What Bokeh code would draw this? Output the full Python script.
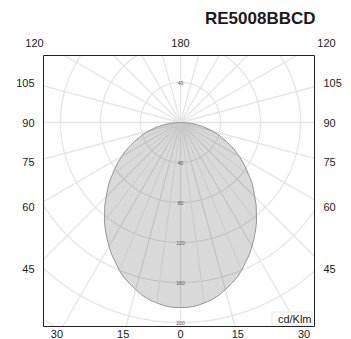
import numpy as np
from bokeh.plotting import figure
from bokeh.models import Range1d
from bokeh.embed import file_html
from bokeh.resources import INLINE
from bokeh.core.properties import value

# ---------------- data ----------------
title_text = "RE5008BBCD"
unit_text = "cd/Klm"

# gamma angle in degrees (0 = straight down, 180 = straight up)
gamma = [0, 2.5, 5, 7.5, 10, 12.5, 15, 17.5, 20, 22.5, 25, 27.5, 30, 32.5, 35, 37.5,
         40, 42.5, 45, 47.5, 50, 52.5, 55, 57.5, 60, 62.5, 65, 67.5, 70, 72.5, 75,
         77.5, 80, 82.5, 85, 87.5, 90, 180]
# luminous intensity (cd/klm), same in both half-planes (C0 / C180)
intensity = [185, 185, 184, 182, 180, 177, 173, 169, 165, 160, 154, 149, 143, 137, 131, 125,
             118, 112, 105, 99, 93, 86, 80, 74, 68, 62, 56, 50, 44, 39, 33,
             27, 22, 16, 11, 5, 0, 0]

ring_values = [40, 80, 120, 160, 200, 240]
ring_labels_below = ["40", "80", "120", "160", "200"]
ring_labels_above = ["40"]
side_ticks = [45, 60, 75, 90, 105]
top_ticks = [120, 180, 120]
top_ticks_signed = [-120, 180, 120]
bottom_ticks = [30, 15, 0, 15, 30]
bottom_ticks_signed = [-30, -15, 0, 15, 30]

# ---------------- layout (1 data unit = 1 px, centre of diagram at 0,0) ----------------
FONT = "Liberation Sans"
GRID = "#e4e4e4"
BX0, BX1, BY0, BY1 = -137, 134, -204, 67   # diagram box

p = figure(width=351, height=339, x_range=Range1d(-180, 171), y_range=Range1d(-217, 122),
           toolbar_location=None, output_backend="svg", title=None,
           x_axis_location=None, y_axis_location=None,
           min_border_left=0, min_border_right=0, min_border_top=0, min_border_bottom=0)
p.grid.visible = False
p.outline_line_color = None
p.background_fill_color = "white"
p.border_fill_color = "white"

# polar grid: rings clipped to the box
t = np.linspace(0, 2 * np.pi, 721)
for r in ring_values:
    cx, cy = r * np.sin(t), r * np.cos(t)
    inside = (cx >= BX0) & (cx <= BX1) & (cy >= BY0) & (cy <= BY1)
    cx = np.where(inside, cx, np.nan)
    cy = np.where(inside, cy, np.nan)
    p.line(cx, cy, line_color=GRID, line_width=1.3)

def to_box(dx, dy):
    ts = []
    if dx > 1e-9: ts.append(BX1 / dx)
    if dx < -1e-9: ts.append(BX0 / dx)
    if dy > 1e-9: ts.append(BY1 / dy)
    if dy < -1e-9: ts.append(BY0 / dy)
    return min(ts)

# polar grid: rays every 15 degrees
xs, ys = [], []
for a in range(0, 360, 15):
    dx, dy = np.sin(np.radians(a)), -np.cos(np.radians(a))
    k = to_box(dx, dy)
    xs.append([0, k * dx]); ys.append([0, k * dy])
p.multi_line(xs, ys, line_color=GRID, line_width=1.3)

# spokes from centre to the curve at the intermediate 7.5 degree angles
g = np.radians(np.array(gamma))
iv = np.array(intensity, dtype=float)
sx, sy = [], []
for gd, gi, a in zip(gamma, g, iv):
    if gd % 7.5 != 0 or gd % 15 == 0 or a <= 0:
        continue
    for side in (1, -1):
        sx.append([0, side * a * np.sin(gi)]); sy.append([0, -a * np.cos(gi)])
p.multi_line(sx, sy, line_color="#ececec", line_width=1.0)

# distribution curve (mirrored C0 / C180)
px = np.concatenate([iv * np.sin(g), (-iv * np.sin(g))[::-1]])
py = np.concatenate([-iv * np.cos(g), (-iv * np.cos(g))[::-1]])
p.patch(px, py, fill_color="#545454", fill_alpha=0.22, line_color="#959595", line_width=1)

# diagram box
p.line([BX0, BX1, BX1, BX0, BX0], [BY0, BY0, BY1, BY1, BY0], line_color="#222222", line_width=1)

# ring value labels on the vertical axis
p.text(x=[0] * len(ring_labels_below), y=[-r for r in ring_values[:len(ring_labels_below)]],
       text=ring_labels_below, text_font=value(FONT), text_font_size="5px",
       text_color="#555555", text_align="center", text_baseline="middle")
p.text(x=[0], y=ring_values[:1], text=ring_labels_above, text_font=value(FONT),
       text_font_size="5px", text_color="#555555", text_align="center", text_baseline="middle")

def lab(x, y, txt, align="center", size="11px", bold=False):
    p.text(x=[x], y=[y], text=[txt], text_align=align, text_baseline="middle",
           text_font=value(FONT), text_font_size=size, text_color="#1a1a1a",
           text_font_style="bold" if bold else "normal")

# angle labels
SIDE = 146
for a in side_ticks:
    th = np.radians(a)
    yv = -SIDE * np.cos(th) / np.sin(th)
    lab(-SIDE, yv, str(a), align="right")
    lab(SIDE - 3, yv, str(a), align="left")

TOP = 80
for a, s in zip(top_ticks, top_ticks_signed):
    if a == 180:
        lab(0, TOP, str(a))
    else:
        lab(np.sign(s) * SIDE, TOP, str(a))

BOTTOM = 211.5
for a, s in zip(bottom_ticks, bottom_ticks_signed):
    lab(214 * np.tan(np.radians(s)), -BOTTOM, str(a))

# title and unit
lab(135, 104, title_text, align="right", size="17px", bold=True)
p.rect(x=[111.5], y=[-196], width=[40], height=[13], fill_color="white",
       line_color="#e6e6e6", line_width=1)
lab(131, -196, unit_text, align="right")

open("out.html", "w").write(file_html(p, INLINE))
